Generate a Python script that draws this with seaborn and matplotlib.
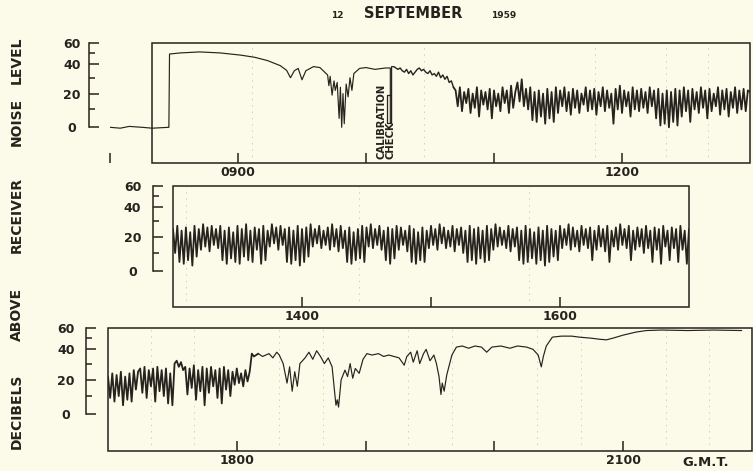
import numpy as np
import matplotlib
matplotlib.use("Agg")
import matplotlib.pyplot as plt
from matplotlib.patches import Rectangle
from matplotlib.ticker import FixedLocator, FixedFormatter, NullFormatter
import seaborn as sns

# ------------------------------------------------------------------ data
# Panel 1 (0800-1300): slow part + calibration stroke (hours, dB)
p1_smooth_t = [8.00, 8.08, 8.15, 8.25, 8.33, 8.46, 8.465,
               8.55, 8.70, 8.86, 9.02, 9.13, 9.23, 9.33, 9.38, 9.41, 9.44,
               9.47, 9.50, 9.53, 9.59, 9.64, 9.70,
               9.71, 9.72, 9.735, 9.75, 9.76, 9.775, 9.79, 9.80, 9.81, 9.82,
               9.83, 9.845, 9.86, 9.875, 9.89, 9.905,
               9.95, 10.0, 10.07, 10.15,
               10.19, 10.19, 10.20, 10.20]
p1_smooth_db = [0, -0.5, 0.5, 0, -0.5, 0, 49,
                50, 51, 50, 48, 46, 43, 38.7, 35.3, 30, 35,
                36.7, 28.7, 35, 38, 37.3, 32,
                25, 31, 19, 28, 22, 27, 5, 24, 0, 20,
                2, 26, 18, 30, 22, 33,
                36.7, 37.3, 36, 37,
                37, 2.5, 2.5, 38]
# calibration bracket drawn by the pen
cal_box_t = [10.195, 10.164, 10.164, 10.195]
cal_box_db = [19, 19, 2.5, 2.5]

# Panel 1, one reading per minute from 10:13 to 13:00
p1_minute_start = 10 + 13 / 60
p1_minute_db = [
    38, 37, 36, 37, 35, 34, 36, 33, 35, 32,
    34, 36, 37, 35, 36, 34, 33, 35, 32, 33,
    31, 34, 30, 32, 29, 31, 27, 28, 24,
    22, 12, 24, 9, 21, 14, 23, 8, 20, 11, 24, 6, 22, 13,
    21, 10, 23, 5, 22, 12, 20, 9, 24, 14, 22, 8, 25, 11, 21,
    27, 15, 29, 12, 23, 10, 24, 4, 21, 3, 22, 6, 20, 2, 23, 5, 21, 3, 24, 8,
    22, 12, 24, 9, 21, 7, 23, 11, 22, 8, 20, 13, 24, 9, 22, 10, 23, 7, 21, 12,
    24, 9, 22, 11, 20, 2, 23, 10, 25, 8, 22, 12, 21, 6, 24, 10, 22, 9, 23, 11,
    21, 8, 24, 12, 22, 5, 23, 1, 20, 2, 22, 0, 21, 3, 23, 1, 22, 6, 24, 9,
    22, 3, 23, 10, 21, 8, 24, 11, 22, 5, 23, 9, 20, 12, 24, 7, 22, 10, 23, 6,
    21, 11, 24, 8, 22, 10, 23, 9, 22, 21]

# Panel 2, one reading per minute from 13:00 to 17:00
p2_minute_start = 13.0
p2_minute_db = [
    25, 10, 27, 5, 24, 4, 26, 6, 23, 3, 27, 8, 25, 12, 28, 14, 26, 11, 27, 15,
    25, 13, 27, 6, 24, 4, 26, 7, 23, 5, 27, 4, 25, 8, 28, 6, 24, 5, 26, 12,
    25, 4, 27, 6, 24, 14, 28, 16, 26, 12, 27, 15, 25, 5, 26, 4, 24, 6, 27, 3,
    25, 5, 26, 8, 28, 14, 25, 16, 27, 13, 24, 15, 26, 12, 28, 14, 25, 11, 27, 13,
    24, 5, 26, 4, 23, 6, 25, 7, 27, 5, 26, 14, 28, 13, 25, 15, 27, 12, 24, 6,
    26, 4, 25, 7, 27, 12, 26, 15, 24, 11, 27, 5, 25, 4, 23, 6, 26, 5, 24, 13,
    27, 15, 25, 12, 28, 16, 26, 13, 24, 14, 27, 11, 25, 15, 26, 10, 24, 5, 27, 6,
    25, 4, 26, 7, 24, 5, 27, 6, 25, 12, 28, 14, 26, 15, 24, 13, 27, 11, 25, 14,
    26, 6, 24, 4, 27, 5, 25, 7, 23, 4, 26, 6, 24, 3, 27, 5, 25, 8, 24, 6,
    27, 13, 25, 15, 28, 12, 26, 14, 24, 11, 27, 15, 25, 13, 26, 6, 24, 12, 27, 14,
    25, 11, 27, 5, 24, 14, 26, 12, 28, 15, 25, 13, 27, 6, 24, 12, 26, 14, 25, 10,
    27, 13, 24, 5, 26, 12, 25, 4, 27, 14, 24, 6, 26, 13, 25, 5, 27, 12, 24, 4,
    25]

# Panel 3, one reading per minute from 17:00 to 18:10, then slower readings
p3_minute_start = 17.0
p3_minute_db = [
    22, 9, 24, 7, 23, 10, 25, 5, 22, 8,
    24, 7, 26, 14, 25,
    27, 12, 28, 9, 26, 16, 27, 7, 28, 13, 26, 10, 27,
    6, 24, 5,
    30, 32, 28, 31, 26,
    28, 11, 27, 15, 29, 8, 26, 13, 28, 5, 27, 12, 28, 16, 26, 9, 27, 6, 28, 14, 26, 10,
    25, 17, 27, 18, 24, 16, 26, 19, 25,
    37, 35, 36, 37]
p3_tail_t = [18.1667, 18.20, 18.25, 18.28, 18.31, 18.33,
             18.36, 18.39, 18.41, 18.43, 18.45, 18.47, 18.49,
             18.53, 18.56, 18.59, 18.62, 18.65, 18.68, 18.71, 18.74,
             18.76, 18.77, 18.78, 18.79, 18.81,
             18.84, 18.86, 18.88, 18.90, 18.92, 18.95,
             18.98, 19.01, 19.05, 19.10, 19.14, 19.18, 19.22, 19.26,
             19.30, 19.32,
             19.35, 19.37, 19.40, 19.42, 19.45, 19.47, 19.50, 19.53, 19.55,
             19.57, 19.585, 19.595, 19.61, 19.63,
             19.67, 19.705, 19.75, 19.80, 19.85, 19.90, 19.94, 19.98,
             20.05, 20.12, 20.18, 20.25, 20.30, 20.34, 20.364, 20.38, 20.403,
             20.45, 20.52, 20.60, 20.66, 20.75, 20.82, 20.87, 20.92,
             21.0, 21.1, 21.18, 21.3, 21.5, 21.7, 21.92]
p3_tail_db = [37, 35, 37, 34, 38, 36,
              30, 18, 28, 13, 25, 16, 30,
              34, 38, 33, 39, 35, 30, 34, 28,
              12, 5, 8, 4, 20,
              26, 22, 30, 21, 27, 24,
              33, 37, 36, 37, 35, 36, 35, 34,
              29, 35,
              38, 31, 39, 30, 37, 40, 32, 36, 30,
              22, 11, 18, 13, 23,
              36, 42, 43, 41, 43, 42, 38, 42,
              43, 41, 43, 42, 40, 36, 28, 35, 43,
              51, 52, 52, 51, 50, 49, 48.5, 50,
              53, 56, 57.5, 58, 57.5, 58, 57.5]

# tick positions (hours) and labels
p1_ticks, p1_labels = [8, 9, 10, 11, 12], ["", "0900", "", "", "1200"]
p2_ticks, p2_labels = [14, 15, 16], ["1400", "", "1600"]
p3_ticks, p3_labels = [18, 19, 20, 21], ["1800", "", "", "2100"]
y_major, y_major_labels = [0, 20, 40, 60], ["0", "20", "40", "60"]
y_minor = [10, 30, 50]

# faint chart-paper rulings (hours)
p1_paper = [9.11, 10.45, 11.79, 12.34, 12.67]
p2_paper = [13.1, 14.44, 15.0, 15.76]
p3_paper = [17.33, 17.67, 18.33, 18.67, 19.33, 19.67, 20.33, 20.67, 21.33, 21.67]

# recorder's non-linear dB scale (dB -> pen height in px above chart bottom)
scale_db = [-30, 0, 10, 20, 30, 40, 50, 60, 70]
scale_pos = [-18, 36, 54, 70, 86, 100, 111, 121, 131]

# ------------------------------------------------------------------ style
INK = "#26221d"
PAPER = "#fcfae9"
RULE = "#d2cfbd"
sns.set_theme(style="white")
plt.rcParams["font.family"] = ["DejaVu Sans"]
plt.rcParams["text.color"] = INK
plt.rcParams["xtick.color"] = INK
plt.rcParams["ytick.color"] = INK

W, H = 753, 471
fig = plt.figure(figsize=(W / 100, H / 100), dpi=100, facecolor=PAPER)


def fwd(v):
    return np.interp(v, scale_db, scale_pos)


def inv(p):
    return np.interp(p, scale_pos, scale_db)


def make_panel(rect_px, xlim, box, spine_off, ticks, labels, ypad, paper):
    x, y, w, h = rect_px
    ax = fig.add_axes([x / W, 1 - (y + h) / H, w / W, h / H])
    ax.patch.set_alpha(0)
    ax.set_yscale("function", functions=(fwd, inv))
    ax.set_xlim(*xlim)
    ax.set_ylim(-20, 60)
    for s in ["top", "right", "bottom"]:
        ax.spines[s].set_visible(False)
    sp = ax.spines["left"]
    sp.set_position(("outward", spine_off * 0.72))
    sp.set_bounds(0, 60)
    sp.set_linewidth(1.1)
    sp.set_color(INK)
    # chart box
    ax.add_patch(Rectangle((box[0], 0), box[1] - box[0], 1, fill=False,
                           lw=1.1, ec=INK, transform=ax.get_xaxis_transform(),
                           clip_on=False, zorder=3))
    # dB bracket
    ax.yaxis.set_major_locator(FixedLocator(y_major))
    ax.yaxis.set_major_formatter(FixedFormatter(y_major_labels))
    ax.yaxis.set_minor_locator(FixedLocator(y_minor))
    ax.yaxis.set_minor_formatter(NullFormatter())
    ax.tick_params(axis="y", which="both", left=True, right=False)
    ax.tick_params(axis="y", which="major", direction="in", length=7.2,
                   width=1.1, pad=ypad, labelsize=9)
    ax.tick_params(axis="y", which="minor", direction="in", length=4.3, width=1.1)
    for lbl in ax.get_yticklabels():
        lbl.set_ha("center")
        lbl.set_fontweight("bold")
    # time axis
    ax.xaxis.set_major_locator(FixedLocator(ticks))
    ax.xaxis.set_major_formatter(FixedFormatter(labels))
    ax.xaxis.set_minor_locator(FixedLocator(paper))
    ax.tick_params(axis="x", which="major", bottom=True, top=False,
                   direction="in", length=7.5, width=1.1, pad=2.5, labelsize=9)
    ax.tick_params(axis="x", which="minor", bottom=True, length=0)
    for lbl in ax.get_xticklabels():
        lbl.set_fontweight("bold")
    ax.grid(which="minor", axis="x", color=RULE, lw=0.7, ls=(0, (1.5, 5)))
    ax.grid(which="major", axis="y", visible=False)
    ax.set_axisbelow(True)
    return ax


ax1 = make_panel([110, 43, 640, 120], (8, 13), (8 + 42 / 128, 13), 21,
                 p1_ticks, p1_labels, 12.2, p1_paper)
ax2 = make_panel([173, 186, 516, 121], (13, 17), (13, 17), 20,
                 p2_ticks, p2_labels, 14.8, p2_paper)
ax3 = make_panel([108, 328, 644, 123], (17, 22), (17, 22), 22,
                 p3_ticks, p3_labels, 14.4, p3_paper)

THIN, DENSE = 0.85, 1.3


def trace(ax, t, v, lw):
    sns.lineplot(x=np.asarray(t, float), y=np.asarray(v, float), ax=ax,
                 color=INK, linewidth=lw, estimator=None, sort=False,
                 legend=False)


# panel 1
p1_min_t = p1_minute_start + np.arange(len(p1_minute_db)) / 60
trace(ax1, list(p1_smooth_t) + [p1_min_t[0]], list(p1_smooth_db) + [p1_minute_db[0]], THIN)
trace(ax1, p1_min_t[:29], p1_minute_db[:29], 1.0)
trace(ax1, p1_min_t[28:], p1_minute_db[28:], DENSE)
trace(ax1, cal_box_t, cal_box_db, 0.9)
ax1.text(10.155, -17.5, "CALIBRATION\nCHECK", rotation=90, ha="center",
         va="bottom", ma="left", fontsize=7.3, fontweight="bold",
         linespacing=0.95, color=INK)

# panel 2
trace(ax2, p2_minute_start + np.arange(len(p2_minute_db)) / 60, p2_minute_db, DENSE)

# panel 3
trace(ax3, p3_minute_start + np.arange(len(p3_minute_db)) / 60, p3_minute_db, DENSE)
trace(ax3, p3_tail_t, p3_tail_db, THIN)

for ax in (ax1, ax2, ax3):
    ax.set_xlabel("")
    ax.set_ylabel("")

# titles and side label
fig.text(337 / W, 1 - 17.5 / H, "12", ha="center", va="baseline",
         fontsize=6.5, fontweight="bold")
fig.text(413 / W, 1 - 17.5 / H, "SEPTEMBER", ha="center", va="baseline",
         fontsize=10.5, fontweight="bold")
fig.text(504 / W, 1 - 17.5 / H, "1959", ha="center", va="baseline",
         fontsize=6.5, fontweight="bold")
fig.text(706 / W, 1 - 462 / H, "G.M.T.", ha="center", va="center",
         fontsize=9.5, fontweight="bold")
for word, yc in [("LEVEL", 60), ("NOISE", 122), ("RECEIVER", 215),
                 ("ABOVE", 314), ("DECIBELS", 411)]:
    fig.text(17 / W, 1 - yc / H, word, rotation=90, ha="center", va="center",
             fontsize=10, fontweight="bold")

fig.savefig("out.png", dpi=100, facecolor=PAPER)
